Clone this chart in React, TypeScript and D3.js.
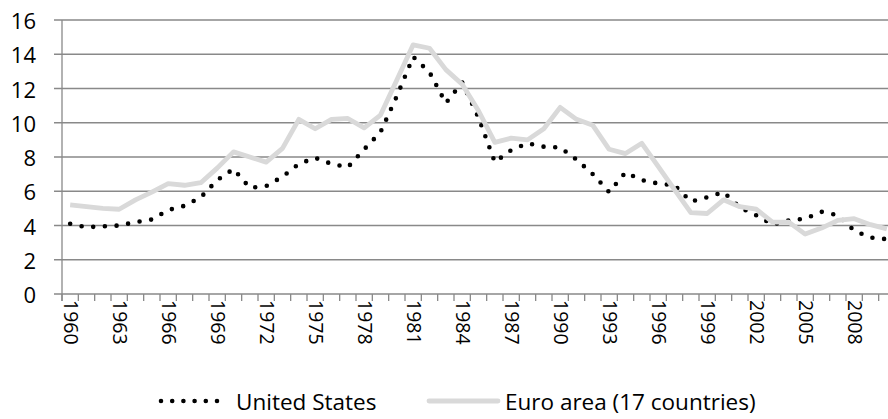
import React, { useEffect, useRef } from "react";
import * as d3 from "d3";

const years = d3.range(1960, 2011).map(String);

const usValues = [
  4.1, 3.9, 3.95, 4.0, 4.2, 4.35, 4.9, 5.15, 5.65, 6.65,
  7.3, 6.2, 6.3, 6.85, 7.6, 7.95, 7.6, 7.4, 8.45, 9.45,
  11.55, 13.85, 12.95, 11.15, 12.35, 10.3, 7.7, 8.4, 8.8, 8.6,
  8.55, 7.85, 7.0, 5.95, 7.1, 6.65, 6.45, 6.35, 5.4, 5.65,
  5.95, 5.05, 4.6, 4.05, 4.3, 4.4, 4.8, 4.6, 3.7, 3.3,
  3.2,
];

const euroValues = [
  5.2, 5.1, 5.0, 4.95, 5.5, 5.95, 6.45, 6.35, 6.5, 7.35,
  8.3, 8.0, 7.7, 8.5, 10.2, 9.65, 10.2, 10.25, 9.7, 10.45,
  12.5, 14.55, 14.35, 13.1, 12.25, 10.7, 8.85, 9.1, 9.0, 9.65,
  10.9, 10.2, 9.85, 8.45, 8.2, 8.8, 7.45, 6.1, 4.75, 4.7,
  5.5, 5.1, 4.95, 4.2, 4.2, 3.5, 3.85, 4.3, 4.4, 4.05,
  3.8,
];

const yTicks = [0, 2, 4, 6, 8, 10, 12, 14, 16];
const seriesNames = ["United States", "Euro area (17 countries)"];

const W = 888;
const H = 419;
const FONT = "'Open Sans', sans-serif";
const GRID = "#898989";
const EURO = "#d9d9d9";

const App: React.FC = () => {
  const ref = useRef<SVGSVGElement | null>(null);

  useEffect(() => {
    const svg = d3.select(ref.current);
    svg.selectAll("*").remove();

    const x = d3.scaleBand<string>().domain(years).range([62, 895]);
    const y = d3.scaleLinear().domain([0, 16]).range([294, 20]);
    const cx = (d: string) => (x(d) as number) + x.bandwidth() / 2;

    // gridlines
    svg.append("g")
      .selectAll("line")
      .data(yTicks)
      .join("line")
      .attr("x1", 54)
      .attr("x2", W)
      .attr("y1", (d) => y(d))
      .attr("y2", (d) => y(d))
      .attr("stroke", GRID)
      .attr("stroke-width", 1.3);

    // y axis line
    svg.append("line")
      .attr("x1", 62).attr("x2", 62)
      .attr("y1", y(16)).attr("y2", y(0) + 7)
      .attr("stroke", GRID).attr("stroke-width", 1.3);

    // x ticks between categories
    const tickPos = years.map((d) => x(d) as number).concat([x.range()[1]]);
    svg.append("g")
      .selectAll("line")
      .data(tickPos)
      .join("line")
      .attr("x1", (d) => d).attr("x2", (d) => d)
      .attr("y1", y(0)).attr("y2", y(0) + 7)
      .attr("stroke", GRID).attr("stroke-width", 1.3);

    // y labels
    svg.append("g")
      .selectAll("text")
      .data(yTicks)
      .join("text")
      .attr("x", 36)
      .attr("y", (d) => y(d))
      .attr("text-anchor", "end")
      .attr("dominant-baseline", "central")
      .attr("font-family", FONT)
      .attr("font-size", 22)
      .attr("fill", "#000")
      .text((d) => d);

    // x labels, every 3rd year, rotated
    svg.append("g")
      .selectAll("text")
      .data(years.filter((_, i) => i % 3 === 0))
      .join("text")
      .attr("transform", (d) => `translate(${cx(d) + 1},${y(0) + 6}) rotate(90)`)
      .attr("dominant-baseline", "central")
      .attr("font-family", FONT)
      .attr("font-size", 19.5)
      .attr("fill", "#000")
      .text((d) => d);

    const line = d3.line<number>()
      .x((_, i) => cx(years[i]))
      .y((d) => y(d));

    svg.append("path")
      .attr("d", line(usValues))
      .attr("fill", "none")
      .attr("stroke", "#000")
      .attr("stroke-width", 4.6)
      .attr("stroke-linecap", "round")
      .attr("stroke-dasharray", "0 11.7");

    svg.append("path")
      .attr("d", line(euroValues))
      .attr("fill", "none")
      .attr("stroke", EURO)
      .attr("stroke-width", 4.8)
      .attr("stroke-linejoin", "round");

    // legend
    const lg = svg.append("g");
    lg.append("line")
      .attr("x1", 161).attr("x2", 228).attr("y1", 401).attr("y2", 401)
      .attr("stroke", "#000").attr("stroke-width", 4.6)
      .attr("stroke-linecap", "round").attr("stroke-dasharray", "0 11.2");
    lg.append("text")
      .attr("x", 236).attr("y", 401)
      .attr("dominant-baseline", "central")
      .attr("font-family", FONT).attr("font-size", 22.5)
      .text(seriesNames[0]);
    lg.append("line")
      .attr("x1", 429).attr("x2", 498).attr("y1", 401).attr("y2", 401)
      .attr("stroke", EURO).attr("stroke-width", 4.8)
      .attr("stroke-linecap", "round");
    lg.append("text")
      .attr("x", 505).attr("y", 401)
      .attr("dominant-baseline", "central")
      .attr("font-family", FONT).attr("font-size", 22.5)
      .text(seriesNames[1]);
  }, []);

  return (
    <svg
      ref={ref}
      width={W}
      height={H}
      style={{ position: "absolute", left: 0, top: 0, background: "#fff" }}
    />
  );
};

export default App;
